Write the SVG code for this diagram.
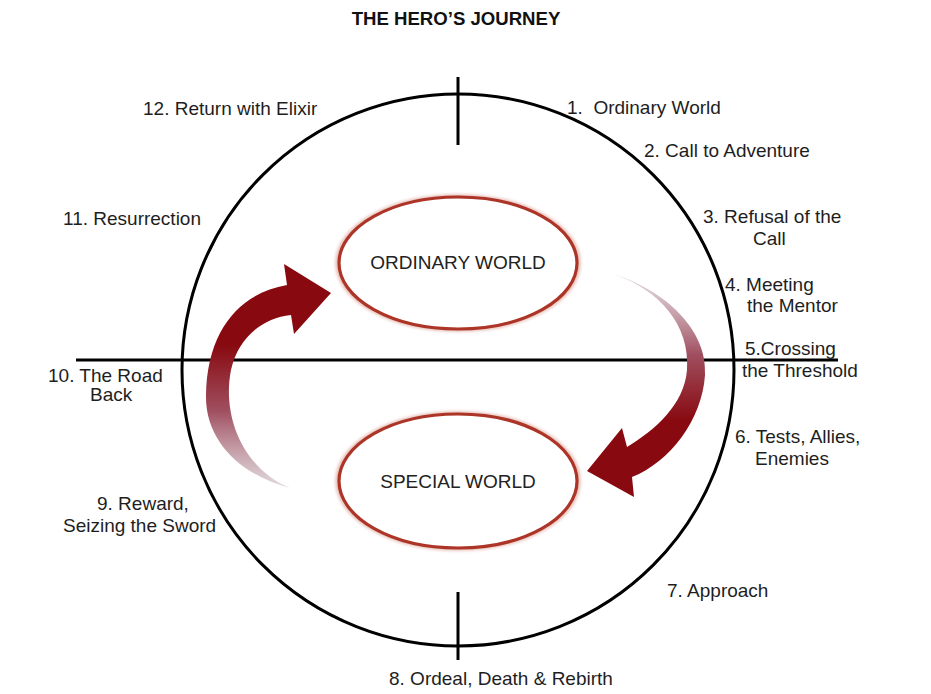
<svg xmlns="http://www.w3.org/2000/svg" width="931" height="694" viewBox="0 0 931 694">
  <style>
    .lbl { font-family: "Liberation Sans", Arial, sans-serif; font-size: 19px; fill: #1e1e1e; }
    .title { font-family: "Liberation Sans", Arial, sans-serif; font-size: 18.6px; font-weight: bold; fill: #111; }
    .world { font-family: "Liberation Sans", Arial, sans-serif; font-size: 19px; fill: #222; }
    .axis { stroke: #000; stroke-width: 3; fill: none; }
    .ring { stroke: #ad3528; stroke-width: 3.2; fill: #fff; }
    .halo { stroke: #c9705f; stroke-width: 5.5; fill: none; opacity: 0.45; filter: url(#soft); }
  </style>
  <defs>
    <filter id="soft" x="-10%" y="-10%" width="120%" height="120%">
      <feGaussianBlur stdDeviation="1.5"/>
    </filter>
    <!-- left arrow: solid at the head, fading toward the tail -->
    <linearGradient id="fadeUp" gradientUnits="userSpaceOnUse" x1="0" y1="345" x2="0" y2="492">
      <stop offset="0" stop-color="#880a10"/>
      <stop offset="0.45" stop-color="#a04f60"/>
      <stop offset="1" stop-color="#d8d0d5" stop-opacity="0.7"/>
    </linearGradient>
    <!-- right arrow: fading at the tail (top), solid toward the head -->
    <linearGradient id="fadeDown" gradientUnits="userSpaceOnUse" x1="0" y1="274" x2="0" y2="420">
      <stop offset="0" stop-color="#d8d0d5" stop-opacity="0.7"/>
      <stop offset="0.55" stop-color="#a04f60"/>
      <stop offset="1" stop-color="#880a10"/>
    </linearGradient>
  </defs>

  <rect width="931" height="694" fill="#fff"/>

  <text class="title" x="456" y="25" text-anchor="middle">THE HERO’S JOURNEY</text>

  <!-- outer cycle -->
  <g id="cycle">
    <circle class="axis" cx="458" cy="370" r="276"/>
  </g>
  <g id="connectors">
    <!-- cross axes -->
    <line class="axis" x1="458" y1="77" x2="458" y2="145"/>
    <line class="axis" x1="458" y1="592" x2="458" y2="660"/>
    <line class="axis" x1="76" y1="360" x2="838" y2="360"/>
    <!-- return arrow (special world back to ordinary world) -->
    <path fill="url(#fadeUp)" d="M290,488 C240,475 205,440 206,395 C207,330 240,293 287,285 L284,264 L331,293 L294,334 L291,315 C262,318 238,338 231,370 C222,415 242,468 290,488 Z"/>
    <!-- departure arrow (ordinary world into special world) -->
    <path fill="url(#fadeDown)" d="M613,274 C665,290 708,330 705,375 C702,420 670,462 632,477 L634,497 L587,471 L622,428 L627,447 C655,430 684,405 687,370 C690,325 660,290 613,274 Z"/>
  </g>

  <g id="ordinary-world">
    <ellipse class="halo" cx="458" cy="263" rx="120" ry="66"/>
    <ellipse class="ring" cx="458" cy="263" rx="119" ry="66"/>
    <text class="world" x="458" y="269" text-anchor="middle">ORDINARY WORLD</text>
  </g>

  <g id="special-world">
    <ellipse class="halo" cx="458" cy="481" rx="120" ry="67"/>
    <ellipse class="ring" cx="458" cy="481" rx="119" ry="67"/>
    <text class="world" x="458" y="488" text-anchor="middle">SPECIAL WORLD</text>
  </g>

  <!-- stage labels around the cycle -->
  <g id="stage-1"><text class="lbl" x="567" y="114" xml:space="preserve">1.  Ordinary World</text></g>
  <g id="stage-2"><text class="lbl" x="644" y="157">2. Call to Adventure</text></g>
  <g id="stage-3">
    <text class="lbl" x="703" y="223">3. Refusal of the</text>
    <text class="lbl" x="753" y="245">Call</text>
  </g>
  <g id="stage-4">
    <text class="lbl" x="725" y="291">4. Meeting</text>
    <text class="lbl" x="747" y="312">the Mentor</text>
  </g>
  <g id="stage-5">
    <text class="lbl" x="745" y="355">5.Crossing</text>
    <text class="lbl" x="742" y="377">the Threshold</text>
  </g>
  <g id="stage-6">
    <text class="lbl" x="735" y="443">6. Tests, Allies,</text>
    <text class="lbl" x="755" y="465">Enemies</text>
  </g>
  <g id="stage-7"><text class="lbl" x="667" y="597">7. Approach</text></g>
  <g id="stage-8"><text class="lbl" x="389" y="685">8. Ordeal, Death &amp; Rebirth</text></g>
  <g id="stage-9">
    <text class="lbl" x="97" y="510">9. Reward,</text>
    <text class="lbl" x="63" y="532">Seizing the Sword</text>
  </g>
  <g id="stage-10">
    <text class="lbl" x="48" y="382">10. The Road</text>
    <text class="lbl" x="90" y="401">Back</text>
  </g>
  <g id="stage-11"><text class="lbl" x="63" y="225">11. Resurrection</text></g>
  <g id="stage-12"><text class="lbl" x="143" y="115">12. Return with Elixir</text></g>
</svg>
